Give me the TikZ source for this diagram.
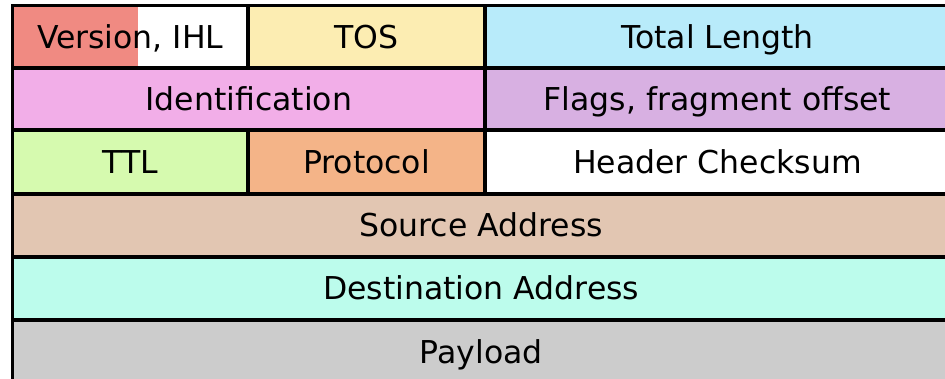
\documentclass[tikz,border=0pt]{standalone}
\usepackage{fontspec}
\setmainfont{DejaVu Sans}
\definecolor{cVer}{HTML}{F08A82}
\definecolor{cTos}{HTML}{FCEDB2}
\definecolor{cLen}{HTML}{B8EBFA}
\definecolor{cIdent}{HTML}{F2AEE8}
\definecolor{cFlags}{HTML}{D8B0E2}
\definecolor{cTtl}{HTML}{D6FAAF}
\definecolor{cProto}{HTML}{F4B488}
\definecolor{cSrc}{HTML}{E2C6B2}
\definecolor{cDst}{HTML}{BCFCEC}
\definecolor{cPay}{HTML}{CCCCCC}
\begin{document}
\begin{tikzpicture}[x=1pt,y=-1pt,
  cell/.style={draw=black, line width=3.3pt, inner sep=0pt, outer sep=0pt,
    anchor=north west, font=\fontsize{31.5}{33}\selectfont,
    text height=23pt, text depth=0pt},
  narrow/.style={minimum width=235.5pt},
  mid/.style={minimum width=237pt},
  wide/.style={minimum width=465pt},
  half/.style={minimum width=472.5pt},
  full/.style={minimum width=937.5pt},
  r1/.style={minimum height=62.3pt},
  r2/.style={minimum height=62pt},
  r3/.style={minimum height=64pt},
  r4/.style={minimum height=63pt}]
\useasboundingbox (0,0) rectangle (945,379);
\clip (0,0) rectangle (945,379);
\fill[white] (0,0) rectangle (945,379);
% row 1
\fill[cVer] (12.5,5.7) rectangle (137.5,68);
\node[cell, narrow, r1] (ver) at (12.5,5.7) {Version, IHL};
\node[cell, mid, r1, fill=cTos] (tos) at (248,5.7) {TOS};
\node[cell, wide, r1, fill=cLen] (len) at (485,5.7) {Total Length};
% row 2
\node[cell, half, r2, fill=cIdent] (ident) at (12.5,68) {Identification};
\node[cell, wide, r2, fill=cFlags] (flags) at (485,68) {Flags, fragment offset};
% row 3
\node[cell, narrow, r3, fill=cTtl] (ttl) at (12.5,130) {TTL};
\node[cell, mid, r3, fill=cProto] (proto) at (248,130) {Protocol};
\node[cell, wide, r3, fill=white] (chk) at (485,130) {Header Checksum};
% rows 4-6
\node[cell, full, r4, fill=cSrc] (src) at (12.5,194) {Source Address};
\node[cell, full, r4, fill=cDst] (dst) at (12.5,257) {Destination Address};
\node[cell, full, r4, fill=cPay] (pay) at (12.5,320) {Payload};
\end{tikzpicture}
\end{document}
